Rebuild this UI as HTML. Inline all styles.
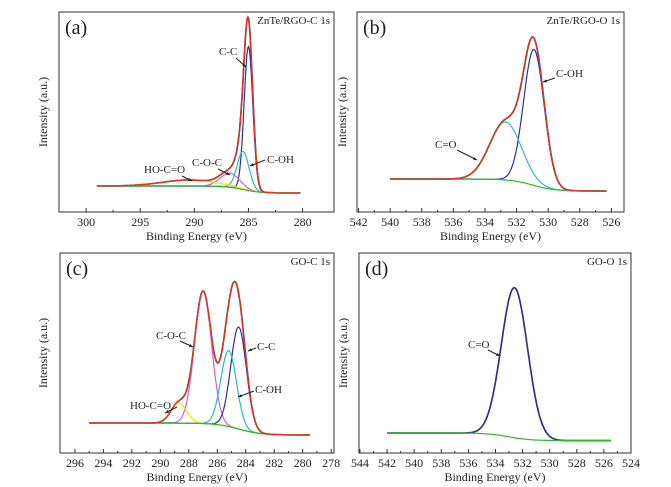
<!DOCTYPE html>
<html><head><meta charset="utf-8"><style>
body{margin:0;background:#fff}
svg{display:block;font-family:"Liberation Serif",serif}
</style></head><body>
<svg id="chart" width="671" height="487" viewBox="0 0 671 487"></svg>
<script>
// Panel (a) ZnTe/RGO-C 1s
const aLabels = ["C-C","C-OH","C-O-C","HO-C=O"];
const aCenters = [285.0, 285.5, 286.7, 290.5];
const aAmps = [72, 19, 7, 3];
const aSigmas = [0.4, 0.55, 0.9, 2.5];
const aBg = [13, 9.5, 285.5, 0.8];
const aTicks = [300, 295, 290, 285, 280];
// Panel (b) ZnTe/RGO-O 1s
const bLabels = ["C-OH","C=O"];
const bCenters = [530.9, 532.7];
const bAmps = [68, 29];
const bSigmas = [0.65, 1.0];
const bBg = [16.5, 10.5, 531, 0.7];
const bTicks = [542, 540, 538, 536, 534, 532, 530, 528, 526];
// Panel (c) GO-C 1s
const cLabels = ["C-O-C","C-C","C-OH","HO-C=O"];
const cCenters = [287.0, 284.5, 285.2, 288.7];
const cAmps = [66, 51, 38, 10];
const cSigmas = [0.6, 0.55, 0.55, 0.55];
const cBg = [15, 9, 284.5, 0.8];
const cTicks = [296, 294, 292, 290, 288, 286, 284, 282, 280, 278];
// Panel (d) GO-O 1s
const dLabels = ["C=O"];
const dCenters = [532.6];
const dAmps = [75];
const dSigmas = [0.97];
const dBg = [10, 6.2, 533, 0.8];
const dTicks = [544, 542, 540, 538, 536, 534, 532, 530, 528, 526, 524];

const NS = "http://www.w3.org/2000/svg";
const svg = document.getElementById("chart");
function mk(tag, attrs, parent) {
  const e = document.createElementNS(NS, tag);
  for (const k in attrs) e.setAttribute(k, attrs[k]);
  (parent || svg).appendChild(e);
  return e;
}
function txt(s, x, y, size, parent, anchor) {
  const t = mk("text", {x: x, y: y, "font-size": size, fill: "#222", "text-anchor": anchor || "start"}, parent);
  t.textContent = s;
  return t;
}

const panels = [
  {id:"a", tag:"(a)", title:"ZnTe/RGO-C 1s", L:59, R:334, T:12, B:212, xL:302.5, xR:277.1, x0:299, x1:280.2,
   labels:aLabels, centers:aCenters, amps:aAmps, sigmas:aSigmas, bg:aBg, ticks:aTicks, minor:2.5,
   colors:["#2b2fb0","#22c0c0","#d65fd0","#f0e000"], red:true, ytx:47,
   ann:[[219,55,236,58,246,67],[267,163,265,160,250,166],[192,166,218,169,230,175],[144,173,182,176,192,181]]},
  {id:"b", tag:"(b)", title:"ZnTe/RGO-O 1s", L:357, R:624, T:12, B:212, xL:542.1, xR:525.2, x0:540, x1:526.3,
   labels:bLabels, centers:bCenters, amps:bAmps, sigmas:bSigmas, bg:bBg, ticks:bTicks, minor:1,
   colors:["#2b2fb0","#22c0c0"], red:true, ytx:346,
   ann:[[556,77,555,78,543,82],[435,148,457,150,477,160]]},
  {id:"c", tag:"(c)", title:"GO-C 1s", L:60, R:334, T:253, B:453, xL:297.05, xR:277.8, x0:295, x1:279.5,
   labels:cLabels, centers:cCenters, amps:cAmps, sigmas:cSigmas, bg:cBg, ticks:cTicks, minor:1,
   colors:["#d65fd0","#2b2fb0","#22c0c0","#f0e000"], red:true, ytx:47,
   ann:[[156,339,180,341,193,347],[257,350,256,348,248,351],[255,393,254,391,238,397],[130,409,177,407,165,413]]},
  {id:"d", tag:"(d)", title:"GO-O 1s", L:359, R:631, T:253, B:453, xL:544.07, xR:524, x0:542, x1:525.5,
   labels:dLabels, centers:dCenters, amps:dAmps, sigmas:dSigmas, bg:dBg, ticks:dTicks, minor:1,
   colors:["#2b2fb0"], red:false, ytx:347,
   ann:[[468,348,488,350,500,356]]}
];

panels.forEach(p => {
  const g = mk("g", {});
  
  
  const sx = v => p.L + (v - p.xL) / (p.xR - p.xL) * (p.R - p.L);
  const sy = v => p.B - v / 100 * (p.B - p.T);
  const bgf = x => p.bg[1] + (p.bg[0] - p.bg[1]) / (1 + Math.exp(-(x - p.bg[2]) / p.bg[3]));
  const gau = (x, i) => p.amps[i] * Math.exp(-Math.pow((x - p.centers[i]) / p.sigmas[i], 2) / 2);
  const xs = [];
  for (let x = p.x0; x >= p.x1 - 1e-9; x -= 0.05) xs.push(x);
  const path = f => xs.map((x, k) => (k ? "L" : "M") + sx(x).toFixed(1) + "," + sy(f(x)).toFixed(1)).join("");
  const total = x => bgf(x) + p.centers.reduce((s, c, i) => s + gau(x, i), 0);

  // frame
  const fr = mk("rect", {x:p.L, y:p.T, width:p.R-p.L, height:p.B-p.T, fill:"none", stroke:"#333", "stroke-width":1}, g);
  
  

  // ticks
  const ax = mk("g", {}, g);
  
  
  const tmin = Math.min(...p.ticks), tmax = Math.max(...p.ticks);
  for (let v = tmin; v <= tmax + 1e-9; v += p.minor) {
    const X = sx(v);
    if (X < p.L - 0.5 || X > p.R + 0.5) continue;
    const major = p.ticks.some(t => Math.abs(t - v) < 1e-6);
    mk("line", {x1:X, x2:X, y1:p.B, y2:p.B - (major ? 4 : 2), stroke:"#333", "stroke-width":1}, ax);
  }
  p.ticks.forEach(v => {
    const t = txt(String(v), sx(v), p.B + 14, 12, ax, "middle");
    
    
  });
  const xt = txt("Binding Energy (eV)", (p.L + p.R) / 2, p.B + 28, 12, g, "middle");
  
  
  const cy = (p.T + p.B) / 2;
  const yt = mk("text", {x:p.ytx, y:cy, "font-size":12, fill:"#222", "text-anchor":"middle", transform:"rotate(-90 " + p.ytx + " " + cy + ")"}, g);
  yt.textContent = "Intensity (a.u.)";
  
  

  // raw data (black)
  const raw = mk("path", {d: path(total), fill:"none", stroke:"#222", "stroke-width":1.6}, g);
  
  
  // components
  p.centers.forEach((c, i) => {
    const cp = mk("path", {d: path(x => bgf(x) + gau(x, i)), fill:"none", stroke:p.colors[i], "stroke-width":1.2}, g);
    
    
  });
  const bp = mk("path", {d: path(bgf), fill:"none", stroke:"#2db82d", "stroke-width":1.2}, g);
  
  
  if (p.red) {
    const rp = mk("path", {d: path(total), fill:"none", stroke:"#e8321e", "stroke-width":1.3}, g);
    
    
  }

  // panel tag and title
  const tg = txt(p.tag, p.L + 6, p.T + 22, 20, g);
  
  
  const tt = txt(p.title, p.R - 4, p.T + 12, 11, g, "end");
  
  

  // annotations
  p.ann.forEach((a, i) => {
    const lt = txt(p.labels[i], a[0], a[1], 11, g);
    
    
    const ln = mk("line", {x1:a[2], y1:a[3], x2:a[4], y2:a[5], stroke:"#222", "stroke-width":1}, g);
    
    
    const ang = Math.atan2(a[5] - a[3], a[4] - a[2]);
    const hx = a[4], hy = a[5], s = 4;
    const pts = [[hx, hy], [hx - s * Math.cos(ang - 0.4), hy - s * Math.sin(ang - 0.4)], [hx - s * Math.cos(ang + 0.4), hy - s * Math.sin(ang + 0.4)]];
    const ah = mk("polygon", {points: pts.map(q => q.join(",")).join(" "), fill:"#222"}, g);
    
    
  });
});
</script>
</body></html>
